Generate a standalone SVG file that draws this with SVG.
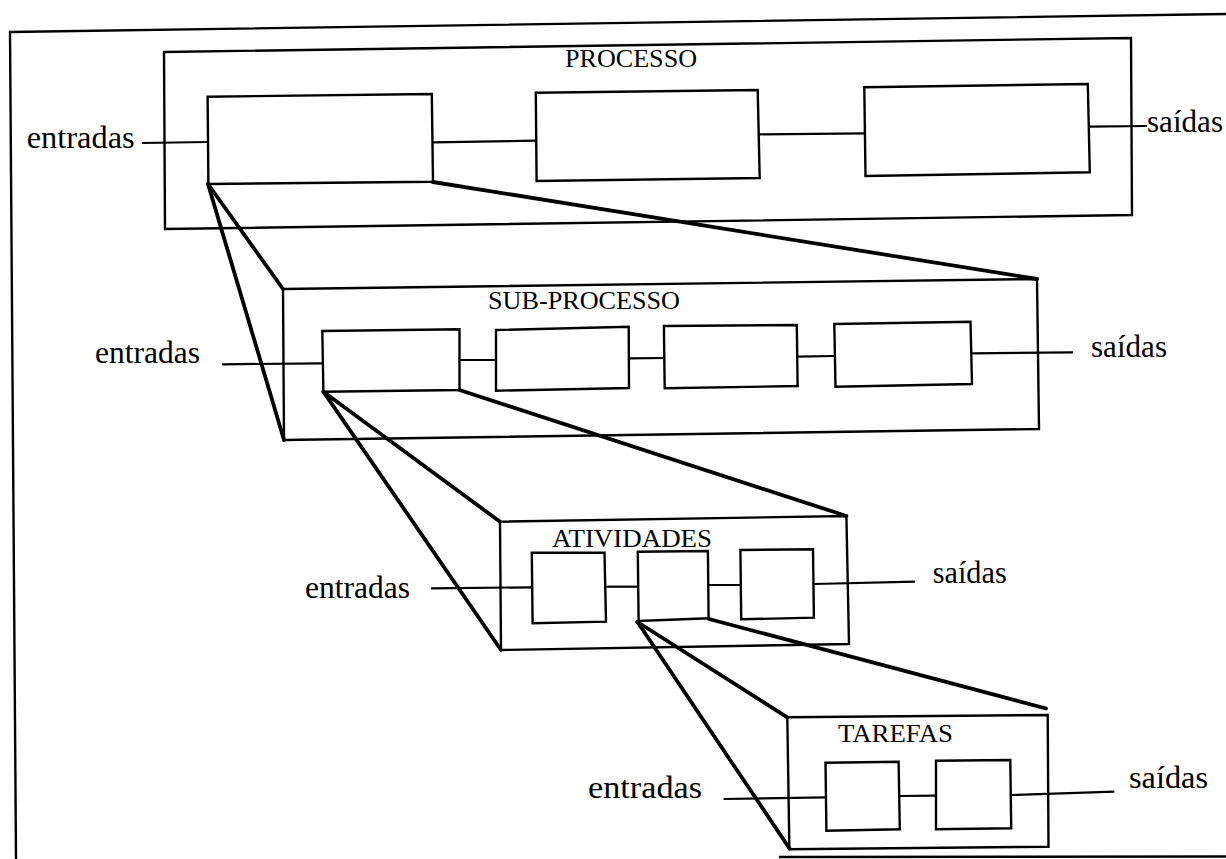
<svg xmlns="http://www.w3.org/2000/svg" width="1226" height="859" viewBox="0 0 1226 859">
<style>
.bx{fill:none;stroke:#000;stroke-width:2.4;stroke-linejoin:miter}
.ln{fill:none;stroke:#000;stroke-width:2.2}
.ex{fill:none;stroke:#000;stroke-width:3.8;stroke-linecap:round}
.lb{font-family:"Liberation Serif","Times New Roman",serif;font-size:32px;fill:#000}
.tt{font-family:"Liberation Serif","Times New Roman",serif;font-size:26px;fill:#000}
</style>
<rect width="1226" height="859" fill="#fff"/>
<g id="frame">
<path class="bx" d="M16,859 L10,32 L1226,14"/>
<path class="bx" d="M779,857 L1226,856.5"/>
</g>
<g id="processo">
<polygon class="bx" points="164,52 1131,38 1132,215 165,229"/>
<text class="tt" x="565" y="67" textLength="132" lengthAdjust="spacingAndGlyphs">PROCESSO</text>
</g>
<g id="p1"><polygon class="bx" points="207.6,96.7 431.8,94 433,181.7 208.4,184"/></g>
<g id="p2"><polygon class="bx" points="535.8,92.7 757.7,90 759.7,178 536.6,181"/></g>
<g id="p3"><polygon class="bx" points="864.3,87.3 1087.8,84 1089.8,172.3 865.5,176"/></g>
<g id="sub">
<polygon class="bx" points="283,289 1037,279 1039,429 284,440"/>
<text class="tt" x="488" y="308.5" textLength="192" lengthAdjust="spacingAndGlyphs">SUB-PROCESSO</text>
</g>
<g id="s1"><polygon class="bx" points="322.3,331 459.5,329.3 459.5,390 323.4,391.7"/></g>
<g id="s2"><polygon class="bx" points="496,330 628.7,326.7 629,388 496,390.7"/></g>
<g id="s3"><polygon class="bx" points="663.9,326 796.8,325 797.6,386 664.7,388.3"/></g>
<g id="s4"><polygon class="bx" points="834.3,324 970.5,321.7 972,384 835.5,386.7"/></g>
<g id="atividades">
<polygon class="bx" points="500,521.7 846.4,516 849,644 501,650"/>
<text class="tt" x="552" y="547" textLength="160" lengthAdjust="spacingAndGlyphs">ATIVIDADES</text>
</g>
<g id="a1"><polygon class="bx" points="531.8,552.7 604.5,552.7 606,621.7 532.6,623.3"/></g>
<g id="a2"><polygon class="bx" points="637.8,551.7 707.9,551 708.6,618.3 638.6,621"/></g>
<g id="a3"><polygon class="bx" points="740.4,550 813,549.3 813.9,617.7 741.2,619.3"/></g>
<g id="tarefas">
<polygon class="bx" points="787.3,717.3 1047.7,715 1048.5,846.7 789.4,849.3"/>
<text class="tt" x="838" y="742" textLength="115" lengthAdjust="spacingAndGlyphs">TAREFAS</text>
</g>
<g id="t1"><polygon class="bx" points="825.5,762.7 898.6,761.7 899.8,829.3 826.4,830.7"/></g>
<g id="t2"><polygon class="bx" points="936,760.7 1010.3,760 1011.2,828.3 936,829.3"/></g>
<g id="labels">
<text class="lb" x="26.7" y="148.3" textLength="108" lengthAdjust="spacingAndGlyphs">entradas</text>
<text class="lb" x="1147" y="131.7" textLength="76" lengthAdjust="spacingAndGlyphs">saídas</text>
<text class="lb" x="95" y="363" textLength="105" lengthAdjust="spacingAndGlyphs">entradas</text>
<text class="lb" x="1091" y="357.3" textLength="76" lengthAdjust="spacingAndGlyphs">saídas</text>
<text class="lb" x="305" y="598.3" textLength="105" lengthAdjust="spacingAndGlyphs">entradas</text>
<text class="lb" x="932.7" y="583.3" textLength="74" lengthAdjust="spacingAndGlyphs">saídas</text>
<text class="lb" x="588" y="798" textLength="114" lengthAdjust="spacingAndGlyphs">entradas</text>
<text class="lb" x="1129" y="788.3" textLength="79" lengthAdjust="spacingAndGlyphs">saídas</text>
</g>
<g id="connectors">
<path class="ln" d="M142,143 L208,142"/>
<path class="ln" d="M433,142.3 L536,140.7"/>
<path class="ln" d="M759.7,134.3 L864.5,133.3"/>
<path class="ln" d="M1089.8,126.7 L1147,126"/>
<path class="ln" d="M222,364.3 L322.5,363.3"/>
<path class="ln" d="M459.5,360 L496,360"/>
<path class="ln" d="M629,358.3 L664,358"/>
<path class="ln" d="M797.5,356.7 L834.5,356"/>
<path class="ln" d="M972,353.3 L1073,352.3"/>
<path class="ln" d="M431,588.3 L532,587.3"/>
<path class="ln" d="M606,586.7 L638,586.7"/>
<path class="ln" d="M708.6,585 L741,585"/>
<path class="ln" d="M814,584 L915,581.7"/>
<path class="ln" d="M723.6,799 L825.5,797.3"/>
<path class="ln" d="M899.8,796 L936,795.7"/>
<path class="ln" d="M1011,795 L1114.4,791.7"/>
<path class="ex" d="M208,184 L283,289"/>
<path class="ex" d="M208,184 L284,440"/>
<path class="ex" d="M433,182 L1037,279"/>
<path class="ex" d="M323.4,391.7 L500,521.7"/>
<path class="ex" d="M323.4,391.7 L501,650"/>
<path class="ex" d="M459.5,390 L846.4,516"/>
<path class="ex" d="M637.5,622 L787.3,717.3"/>
<path class="ex" d="M637.5,622 L789.4,848.3"/>
<path class="ex" d="M709,619 L1046,708.5"/>
</g>
</svg>
